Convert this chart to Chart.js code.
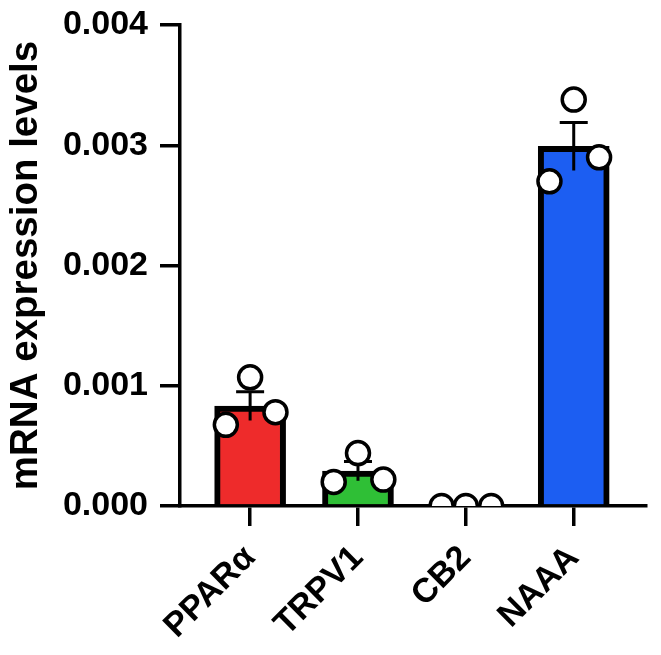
<!DOCTYPE html>
<html>
<head>
<meta charset="utf-8">
<script src="https://cdn.jsdelivr.net/npm/chart.js@4"></script>
<style>
html,body{margin:0;padding:0;background:#fff;}
#wrap{width:661px;height:655px;position:relative;}
</style>
</head>
<body>
<div id="wrap"><canvas id="c"></canvas></div>
<script>
const categories = ['PPARα', 'TRPV1', 'CB2', 'NAAA'];
const means = [0.00083, 0.00029, 0.0, 0.00299];
const sems = [0.00012, 0.00008, 0.0, 0.00020];
// replicate values, listed left / centre / right
const repPPARa = [0.000675, 0.00107, 0.00078];
const repTRPV1 = [0.00020, 0.00044, 0.00022];
const repCB2 = [0.0, 0.0, 0.0];
const repNAAA = [0.00270, 0.00338, 0.00290];
const yTicks = [0, 0.001, 0.002, 0.003, 0.004];

const replicates = [repPPARa, repTRPV1, repCB2, repNAAA];
const jitter = [-0.225, 0, 0.235];
const colorFor = ['#EE2B2B', '#2FBF36', '#888888', '#1C5EF2'];

const scatterData = [];
replicates.forEach((reps, i) => reps.forEach((v, j) => scatterData.push({x: i + jitter[j], y: v})));

const errorBars = {
  id: 'errorBars',
  afterDatasetDraw(chart, args) {
    if (args.meta.type !== 'bar') return;
    const ctx = chart.ctx, xs = chart.scales.x, ys = chart.scales.y;
    ctx.save();
    ctx.strokeStyle = '#000';
    ctx.lineWidth = 3;
    ctx.lineCap = 'butt';
    means.forEach((m, i) => {
      if (sems[i] === 0) return;
      const px = xs.getPixelForValue(i);
      const yTop = ys.getPixelForValue(m + sems[i]);
      const yBot = ys.getPixelForValue(m - sems[i]);
      ctx.beginPath();
      ctx.moveTo(px, yBot); ctx.lineTo(px, yTop);
      ctx.moveTo(px - 14, yTop); ctx.lineTo(px + 14, yTop);
      ctx.stroke();
    });
    ctx.restore();
  }
};

new Chart(document.getElementById('c'), {
  type: 'bar',
  data: {
    datasets: [
      {
        type: 'bar',
        order: 2,
        data: means.map((m, i) => ({x: i, y: m})),
        backgroundColor: colorFor,
        borderColor: '#000',
        borderWidth: 6,
        borderSkipped: 'start',
        barThickness: 71
      },
      {
        type: 'scatter',
        order: 1,
        data: scatterData,
        pointRadius: 11.5,
        pointHoverRadius: 11.5,
        pointBackgroundColor: '#fff',
        pointBorderColor: '#000',
        pointBorderWidth: 3.5,
        showLine: false
      }
    ]
  },
  options: {
    responsive: true,
    maintainAspectRatio: false,
    animation: false,
    events: [],
    layout: {padding: {top: 25, right: 9, left: 0, bottom: 0}},
    plugins: {legend: {display: false}, tooltip: {enabled: false}},
    scales: {
      x: {
        type: 'linear',
        offset: false,
        min: -0.65,
        max: 3.67,
        afterBuildTicks(scale) { scale.ticks = categories.map((c, i) => ({value: i})); },
        afterFit(scale) { scale.height = 149; scale.paddingLeft = 0; scale.paddingRight = 0; },
        ticks: {
          autoSkip: false,
          maxRotation: 45,
          minRotation: 45,
          padding: 12,
          color: '#000',
          font: {family: 'Liberation Sans', size: 34, weight: 'bold'},
          callback: (v) => categories[v]
        },
        grid: {display: true, offset: false, drawOnChartArea: false, drawTicks: true, tickLength: 20, color: '#000', lineWidth: 3.5},
        border: {display: true, color: '#000', width: 3.5}
      },
      y: {
        min: 0,
        max: 0.004,
        afterBuildTicks(scale) { scale.ticks = yTicks.map(v => ({value: v})); },
        afterFit(scale) { scale.width = 180; scale.paddingTop = 0; scale.paddingBottom = 0; },
        ticks: {
          padding: 12,
          color: '#000',
          font: {family: 'Liberation Sans', size: 34, weight: 'bold'},
          callback: (v) => v.toFixed(3)
        },
        title: {
          display: true,
          text: 'mRNA expression levels',
          color: '#000',
          font: {family: 'Liberation Sans', size: 38.5, weight: 'bold'},
          padding: {top: 3, bottom: 0}
        },
        grid: {display: true, drawOnChartArea: false, drawTicks: true, tickLength: 20, color: '#000', lineWidth: 3.5},
        border: {display: true, color: '#000', width: 3.5}
      }
    }
  },
  plugins: [errorBars]
});
</script>
</body>
</html>
